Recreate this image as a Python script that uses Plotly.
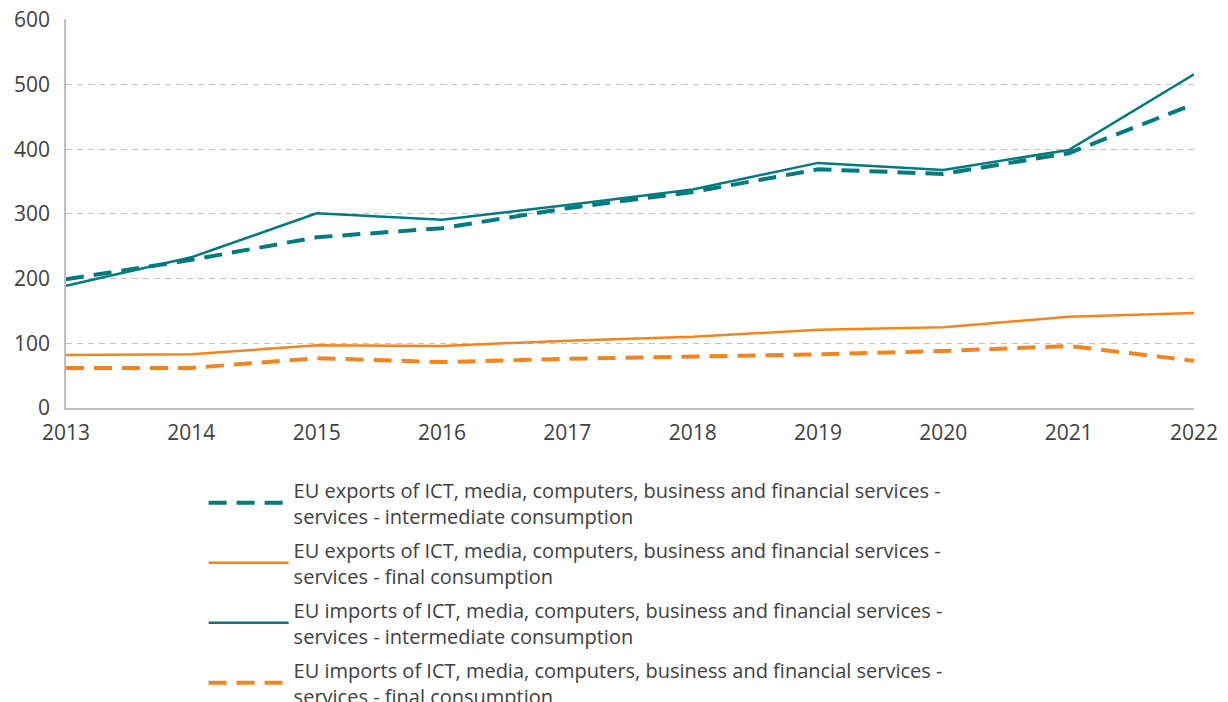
import plotly.graph_objects as go

years = [2013, 2014, 2015, 2016, 2017, 2018, 2019, 2020, 2021, 2022]

exports_intermediate = [199, 229, 264, 278, 309, 334, 369, 362, 394, 470]
exports_final = [82, 83, 97, 96, 104, 110, 121, 125, 141, 147]
imports_intermediate = [189, 233, 301, 291, 314, 338, 379, 368, 399, 516]
imports_final = [62, 62, 77, 71, 76, 79, 83, 88, 96, 73]

names = [
    "EU exports of ICT, media, computers, business and financial services -<br>services - intermediate consumption",
    "EU exports of ICT, media, computers, business and financial services -<br>services - final consumption",
    "EU imports of ICT, media, computers, business and financial services -<br>services - intermediate consumption",
    "EU imports of ICT, media, computers, business and financial services -<br>services - final consumption",
]

TEAL = "#007A7E"
ORANGE = "#F2851F"
FONT = "'Open Sans', sans-serif"

fig = go.Figure()
series = [
    (exports_intermediate, TEAL, 4, "18px,10px"),
    (exports_final, ORANGE, 2.5, "solid"),
    (imports_intermediate, TEAL, 2.5, "solid"),
    (imports_final, ORANGE, 4, "18px,10px"),
]
for i, ((vals, color, w, dash), name) in enumerate(zip(series, names)):
    fig.add_trace(
        go.Scatter(
            x=years,
            y=vals,
            mode="lines",
            name=name,
            legendgroup=f"g{i}",
            line=dict(color=color, width=w, dash=dash),
        )
    )

# the page body adds an 8px offset, margins are set with that in mind
fig.update_layout(
    width=1228,
    height=702,
    margin=dict(l=58, r=42, t=11, b=302, autoexpand=False),
    plot_bgcolor="white",
    paper_bgcolor="white",
    font=dict(family=FONT, size=21, color="#404040"),
    showlegend=True,
    legend=dict(
        x=0.122,
        y=-0.16,
        xanchor="left",
        yanchor="top",
        font=dict(size=20, color="#404040"),
        tracegroupgap=5,
        itemwidth=80,
    ),
    xaxis=dict(
        range=[2013, 2022],
        tickvals=years,
        showgrid=False,
        showline=True,
        linecolor="#BFBFBF",
        linewidth=1.5,
        ticks="",
        ticklabelstandoff=5,
        ticklabeloverflow="allow",
        zeroline=False,
    ),
    yaxis=dict(
        # a hair above 600 so the top gridline is still drawn
        range=[0, 601.5],
        tickvals=[0, 100, 200, 300, 400, 500, 600],
        showgrid=True,
        gridcolor="#C0C0C0",
        griddash="6px,5px",
        gridwidth=1.2,
        showline=True,
        linecolor="#BFBFBF",
        linewidth=1.5,
        zeroline=False,
        ticks="",
        ticklabelstandoff=10,
        ticklabeloverflow="allow",
    ),
)

fig.write_html("out.html")
